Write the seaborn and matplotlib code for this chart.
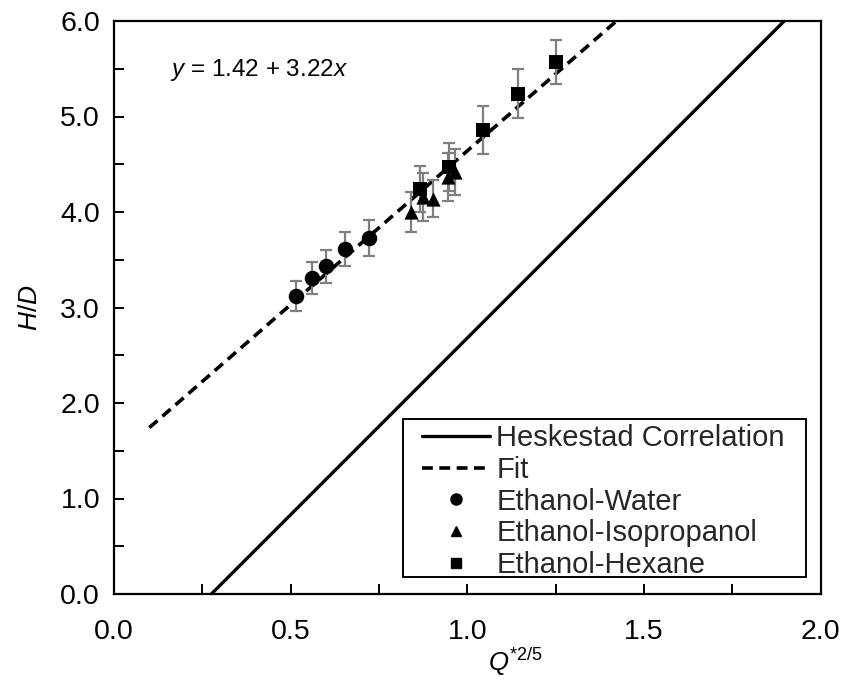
import matplotlib
matplotlib.use("Agg")
import matplotlib.pyplot as plt
from matplotlib.lines import Line2D
from matplotlib.patches import Rectangle
from matplotlib.ticker import MultipleLocator
import seaborn as sns
import pandas as pd

# ---- data ----
water_x = [0.514, 0.561, 0.601, 0.654, 0.721]
water_y = [3.12, 3.31, 3.43, 3.61, 3.73]
water_err = [0.16, 0.17, 0.175, 0.18, 0.19]

iso_x = [0.841, 0.876, 0.904, 0.945, 0.965]
iso_y = [4.00, 4.16, 4.14, 4.37, 4.42]
iso_err = [0.21, 0.25, 0.19, 0.25, 0.24]

hex_x = [0.866, 0.949, 1.044, 1.143, 1.250]
hex_y = [4.24, 4.47, 4.86, 5.24, 5.57]
hex_err = [0.24, 0.25, 0.25, 0.26, 0.23]

hesk_x = [0.2757, 1.8973]
hesk_y = [0.0, 6.0]
fit_x = [0.10, 1.4224]
fit_y = [1.742, 6.0]

x_ticks = [0.0, 0.5, 1.0, 1.5, 2.0]
y_ticks = [0.0, 1.0, 2.0, 3.0, 4.0, 5.0, 6.0]

labels = ["Heskestad Correlation", "Fit", "Ethanol-Water",
          "Ethanol-Isopropanol", "Ethanol-Hexane"]
fit_text = r"$\it{y}$ = 1.42 + 3.22$\it{x}$"

# ---- style ----
sns.set_theme(style="ticks")
plt.rcParams["font.family"] = ["Liberation Sans", "DejaVu Sans"]
plt.rcParams["mathtext.fontset"] = "custom"
plt.rcParams["mathtext.rm"] = "Liberation Sans"
plt.rcParams["mathtext.it"] = "Liberation Sans:italic"

W, H = 844, 680
fig = plt.figure(figsize=(W / 100, H / 100), dpi=100)
ax = fig.add_axes([114 / W, (H - 594) / H, (820.5 - 114) / W, (594 - 21) / H])

hesk_df = pd.DataFrame({"x": hesk_x, "y": hesk_y})
fit_df = pd.DataFrame({"x": fit_x, "y": fit_y})
dash = (0, (3.0, 1.8))
sns.lineplot(data=hesk_df, x="x", y="y", ax=ax, color="black", lw=2.4,
             zorder=2)
sns.lineplot(data=fit_df, x="x", y="y", ax=ax, color="black", lw=2.6,
             zorder=2, linestyle=dash)

series = [
    (water_x, water_y, water_err, "o", 125),
    (iso_x, iso_y, iso_err, "^", 105),
    (hex_x, hex_y, hex_err, "s", 105),
]
for xs, ys, es, mk, sz in series:
    ax.errorbar(xs, ys, yerr=es, fmt="none", ecolor="#7f7f7f", elinewidth=1.6,
                capsize=4.5, capthick=1.6, zorder=3)
    df = pd.DataFrame({"x": xs, "y": ys})
    sns.scatterplot(data=df, x="x", y="y", ax=ax, marker=mk, s=sz,
                    color="black", edgecolor="black", linewidth=0, zorder=4)

ax.set_xlim(0, 2)
ax.set_ylim(0, 6)
ax.set_xticks(x_ticks)
ax.set_yticks(y_ticks)
ax.set_xticklabels([f"{v:.1f}" for v in x_ticks])
ax.set_yticklabels([f"{v:.1f}" for v in y_ticks])
ax.xaxis.set_minor_locator(MultipleLocator(0.25))
ax.yaxis.set_minor_locator(MultipleLocator(0.5))
ax.tick_params(axis="both", which="both", direction="in", length=7,
               width=1.4, color="black", labelsize=20.5, labelcolor="black")
ax.tick_params(axis="x", pad=18)
ax.tick_params(axis="y", pad=10)
for sp in ax.spines.values():
    sp.set_visible(True)
    sp.set_color("black")
    sp.set_linewidth(1.6)

ax.set_xlabel(r"$\it{Q}^{*2/5}$", fontsize=18.5, color="black")
ax.set_ylabel(r"$\it{H/D}$", fontsize=19, color="black")
ax.xaxis.set_label_coords(0.568, -0.090)
ax.yaxis.set_label_coords(-0.102, 0.5)

ax.text(0.158, 5.49, fit_text, fontsize=17.5, color="black", va="center",
        ha="left")

handles = [
    Line2D([], [], color="black", lw=2.4),
    Line2D([], [], color="black", lw=2.6, linestyle=dash),
    Line2D([], [], color="black", marker="o", ls="none", markersize=8),
    Line2D([], [], color="black", marker="^", ls="none", markersize=7),
    Line2D([], [], color="black", marker="s", ls="none", markersize=7.5),
]
fs = 21
leg = ax.legend(handles, labels, loc="upper left",
                bbox_to_anchor=(422 / W, 1 - 424 / H),
                bbox_transform=fig.transFigure,
                fontsize=fs, frameon=False,
                handlelength=68 / (fs * 100 / 72), handletextpad=0.22,
                labelspacing=0.13, borderpad=0.0, borderaxespad=0)

frame = Rectangle((403 / W, 1 - 577 / H), (806 - 403) / W, (577 - 419) / H,
                  transform=fig.transFigure, fill=False, edgecolor="black",
                  linewidth=1.4, zorder=5)
fig.patches.append(frame)

fig.savefig("out.png", dpi=100)
